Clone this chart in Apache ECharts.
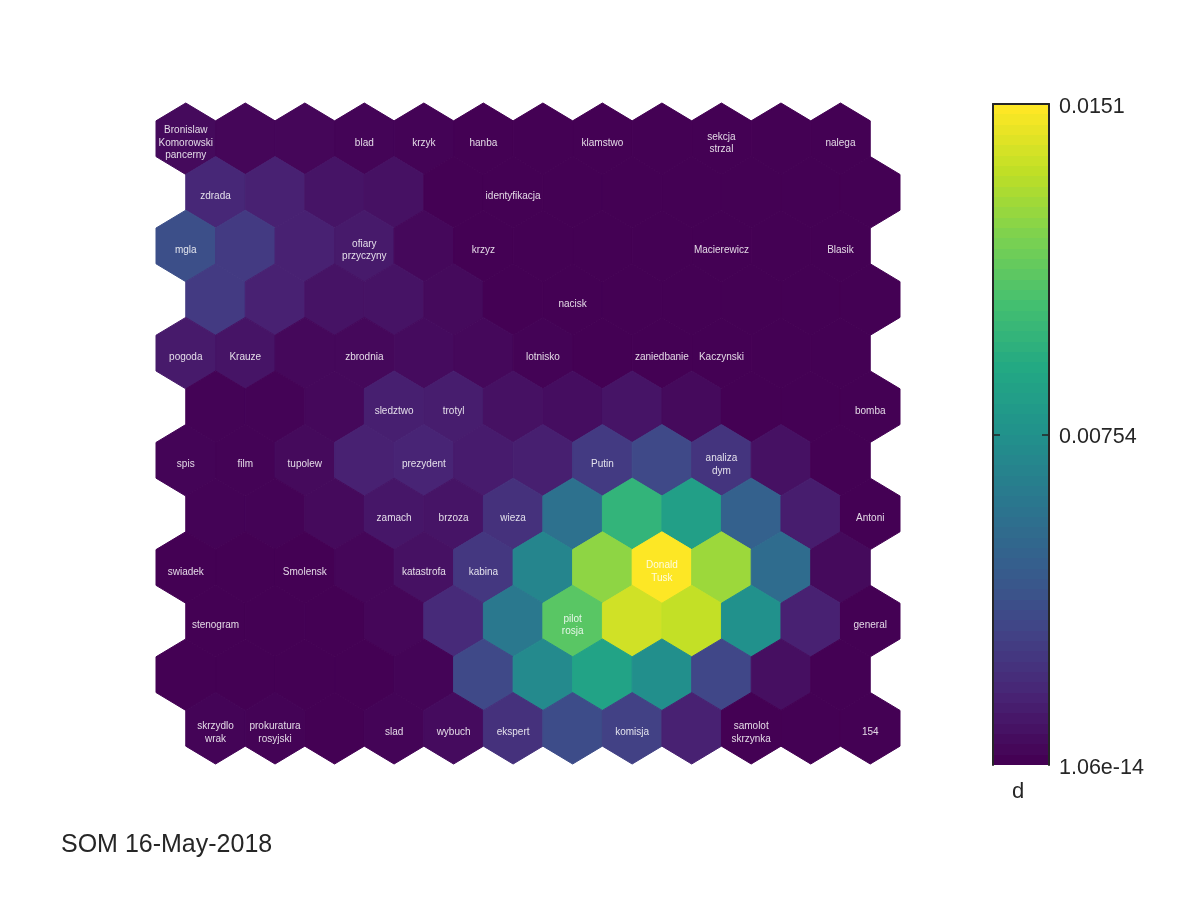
<!DOCTYPE html>
<html><head><meta charset="utf-8">
<style>html,body{margin:0;padding:0;background:#fff}#c{width:1200px;height:900px}</style>
<script src="https://cdn.jsdelivr.net/npm/echarts@6/dist/echarts.min.js"></script>
</head><body><div id="c"></div>
<script>
const row0=[.00038,.00023,.00023,.00015,.00008,0,0,0,0,0,0,0];
const row1=[.00166,.00136,.00083,.00068,0,0,0,0,0,0,0,0];
const row2=[.00362,.00257,.00136,.00106,.0003,0,0,0,0,0,0,0];
const row3=[.00257,.00136,.00076,.00076,.00038,0,0,0,0,0,0,0];
const row4=[.00106,.00083,.0003,.0003,.00045,.0003,.00008,0,0,0,0,0];
const row5=[.00008,.00008,.0003,.00128,.00121,.00068,.00053,.00083,.00038,0,0,0];
const row6=[.00015,.00008,.00038,.00136,.00151,.00113,.00128,.00257,.00332,.00227,.00068,0];
const row7=[.00008,.00008,.00038,.00091,.00083,.00211,.00559,.00982,.00846,.00468,.00121,0];
const row8=[0,0,0,.00023,.00068,.00242,.0068,.01253,.0151,.01284,.00529,.00038];
const row9=[0,0,0,.00023,.00181,.00604,.01117,.01405,.01374,.00755,.00136,0];
const row10=[0,0,0,0,.00015,.00332,.0071,.00876,.0074,.00317,.0006,0];
const row11=[.00015,.00008,0,.00015,.00045,.00211,.00347,.00287,.00136,0,0,0];
const rows=[row0,row1,row2,row3,row4,row5,row6,row7,row8,row9,row10,row11];

const labelRows=[0,0,0,0,0,0,0,1,1,2,2,2,2,2,3,4,4,4,4,4,4,5,5,5,6,6,6,6,6,6,7,7,7,7,8,8,8,8,8,9,9,9,11,11,11,11,11,11,11,11];
const labelCols=[0,3,4,5,7,9,11,0,5,0,3,5,9,11,6,0,1,3,6,8,9,3,4,11,0,1,2,4,7,9,3,4,5,11,0,2,4,5,8,0,6,11,0,1,3,4,5,7,9,11];
const labelTexts=['Bronislaw\nKomorowski\npancerny','blad','krzyk','hanba','klamstwo','sekcja\nstrzal','nalega',
'zdrada','identyfikacja',
'mgla','ofiary\nprzyczyny','krzyz','Macierewicz','Blasik',
'nacisk',
'pogoda','Krauze','zbrodnia','lotnisko','zaniedbanie','Kaczynski',
'sledztwo','trotyl','bomba',
'spis','film','tupolew','prezydent','Putin','analiza\ndym',
'zamach','brzoza','wieza','Antoni',
'swiadek','Smolensk','katastrofa','kabina','Donald\nTusk',
'stenogram','pilot\nrosja','general',
'skrzydlo\nwrak','prokuratura\nrosyjski','slad','wybuch','ekspert','komisja','samolot\nskrzynka','154'];

const tickLabels=['1.06e-14','0.00754','0.0151'];
const dMax=0.0151;
const barName=['d'];
const viridis=['#440154','#482475','#414487','#355f8d','#2a788e','#21918c','#22a884','#44bf70','#7ad151','#bddf26','#fde725'];

function hexToRgb(h){return [1,3,5].map(i=>parseInt(h.substr(i,2),16));}
function colormap(t){
  const p=Math.min(0.99999,t)*(viridis.length-1),i=Math.floor(p),f=p-i;
  const a=hexToRgb(viridis[i]),b=hexToRgb(viridis[i+1]);
  return 'rgb('+a.map((v,k)=>Math.round(v+(b[k]-v)*f)).join(',')+')';
}
const LEVELS=64,stops=[];
for(let i=0;i<LEVELS;i++){
  const c=colormap(i/(LEVELS-1));
  stops.push({offset:i/LEVELS,color:c},{offset:(i+1)/LEVELS,color:c});
}
const cellX=(r,c)=>c+0.5+(r%2)*0.5;
const hexData=[];
rows.forEach((vals,r)=>vals.forEach((v,c)=>hexData.push([cellX(r,c),r,v])));
const labelData=labelTexts.map((t,i)=>[cellX(labelRows[i],labelCols[i]),labelRows[i]+0.08,t]);

const frame={show:true,onZero:false,lineStyle:{color:'#262626',width:2}};
const tick={show:true,inside:true,length:7,customValues:[dMax/2],lineStyle:{color:'#262626',width:1.5}};
const chart=echarts.init(document.getElementById('c'),null,{renderer:'canvas'});
chart.setOption({
  animation:false,
  backgroundColor:'#fff',
  title:{text:'SOM 16-May-2018',left:56,top:828,textStyle:{fontFamily:'Liberation Sans',fontSize:25,fontWeight:'normal',color:'#262626'}},
  grid:[
    {left:156,top:103,width:744,height:661},
    {left:993,top:104,width:56,height:661,show:false}
  ],
  xAxis:[
    {gridIndex:0,type:'value',min:0,max:12.5,show:false},
    {gridIndex:1,type:'category',data:barName,position:'bottom',axisLine:{show:false},axisTick:{show:false},
     axisLabel:{fontFamily:'Liberation Sans',fontSize:22,color:'#262626',margin:16,padding:[0,6,0,0]}},
    {gridIndex:1,type:'category',data:barName,position:'top',z:5,axisLine:frame,axisTick:{show:false},axisLabel:{show:false}}
  ],
  yAxis:[
    {gridIndex:0,type:'value',min:-2/3,max:11+2/3,inverse:true,show:false},
    {gridIndex:1,type:'value',min:0,max:dMax,interval:dMax/2,position:'right',z:5,splitLine:{show:false},
     axisLine:frame,axisTick:tick,
     axisLabel:{margin:10,formatter:(v,i)=>'{t|'+tickLabels[i]+'}',
       rich:{t:{fontFamily:'Liberation Sans',fontSize:21.5,color:'#262626',padding:[6,0,0,0]}}}},
    {gridIndex:1,type:'value',min:0,max:dMax,interval:dMax/2,position:'left',z:5,splitLine:{show:false},
     axisLine:frame,axisTick:tick,axisLabel:{show:false}}
  ],
  visualMap:{show:false,type:'continuous',seriesIndex:0,dimension:2,min:0,max:dMax,inRange:{color:viridis}},
  series:[
    {type:'custom',xAxisIndex:0,yAxisIndex:0,coordinateSystem:'cartesian2d',data:hexData,encode:{x:0,y:1},silent:true,
     renderItem(params,api){
       const x=api.value(0),y=api.value(1),col=api.visual('color');
       const pts=[[x,y-2/3],[x+.5,y-1/3],[x+.5,y+1/3],[x,y+2/3],[x-.5,y+1/3],[x-.5,y-1/3]].map(p=>api.coord(p));
       return {type:'polygon',shape:{points:pts},style:{fill:col,stroke:col,lineWidth:1}};
     }},
    {type:'custom',xAxisIndex:0,yAxisIndex:0,coordinateSystem:'cartesian2d',data:labelData,encode:{x:0,y:1},silent:true,z:5,
     renderItem(params,api){
       const p=api.coord([api.value(0),api.value(1)]);
       return {type:'text',x:p[0],y:p[1],style:{text:labelData[params.dataIndex][2],fill:'rgba(255,255,255,0.85)',
         font:'10px "Liberation Sans"',align:'center',verticalAlign:'middle',lineHeight:12.5}};
     }},
    {type:'bar',xAxisIndex:1,yAxisIndex:1,data:[dMax],barWidth:'100%',silent:true,z:1,
     itemStyle:{color:new echarts.graphic.LinearGradient(0,1,0,0,stops)}}
  ]
});
</script></body></html>
